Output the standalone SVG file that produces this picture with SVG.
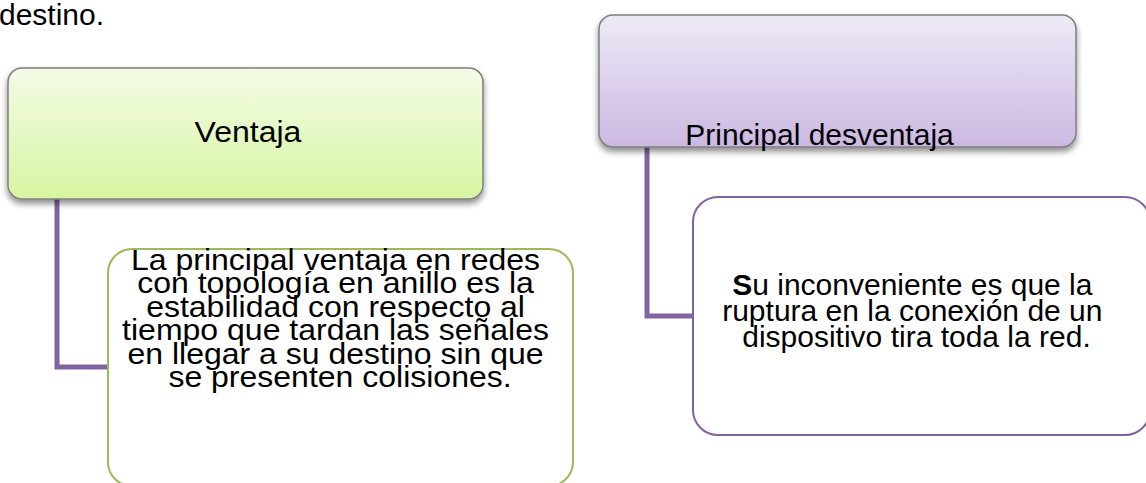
<svg xmlns="http://www.w3.org/2000/svg" width="1146" height="483" viewBox="0 0 1146 483">
<defs>
<linearGradient id="gGreen" x1="0" y1="0" x2="0" y2="1">
<stop offset="0" stop-color="#f4fbe6"/>
<stop offset="1" stop-color="#d6f5a2"/>
</linearGradient>
<linearGradient id="gPurple" x1="0" y1="0" x2="0" y2="1">
<stop offset="0" stop-color="#eee9f6"/>
<stop offset="1" stop-color="#cbb9e2"/>
</linearGradient>
<filter id="shadow" x="-5%" y="-10%" width="110%" height="130%">
<feDropShadow dx="0" dy="4" stdDeviation="3" flood-color="#000" flood-opacity="0.45"/>
</filter>
</defs>
<style>
.t{font-family:"Liberation Sans",Arial,sans-serif;font-size:30px;fill:#000;}
.left{font-size:29.5px;}
.c{text-anchor:middle;}
.head{stroke:#7f7f7f;stroke-width:1.5;}
.conn{fill:none;stroke:#8064a2;stroke-width:5;}
</style>
<rect width="1146" height="483" fill="#fff"/>
<text class="t" x="-1" y="25" font-size="30.5">destino.</text>
<g id="connectors">
<polyline class="conn" points="57,199 57,367 108,367"/>
<polyline class="conn" points="647,147 647,316 693,316"/>
</g>
<g id="ventaja">
<rect class="head" x="8" y="68" width="475" height="131" rx="14" fill="url(#gGreen)" filter="url(#shadow)"/>
<text class="t left c" transform="translate(248,0) scale(1.085,1)" x="0" y="142">Ventaja</text>
</g>
<g id="ventaja-detalle">
<rect x="108" y="249" width="465" height="237" rx="24" fill="#fff" stroke="#9bbb59" stroke-width="2"/>
<text class="t left c" transform="translate(340,0) scale(1.085,1)">
<tspan x="0" y="270">La principal ventaja en redes</tspan>
<tspan x="0" y="293.4">con topología en anillo es la</tspan>
<tspan x="0" y="316.8">estabilidad con respecto al</tspan>
<tspan x="0" y="340.2">tiempo que tardan las señales</tspan>
<tspan x="0" y="363.6">en llegar a su destino sin que</tspan>
<tspan x="0" y="387">se presenten colisiones.</tspan>
</text>
</g>
<g id="desventaja">
<rect class="head" x="599" y="15" width="477" height="132" rx="14" fill="url(#gPurple)" filter="url(#shadow)"/>
<text class="t c" x="819.5" y="145">Principal desventaja</text>
</g>
<g id="desventaja-detalle">
<rect x="693" y="197" width="457" height="238" rx="25" fill="#fff" stroke="#8064a2" stroke-width="2"/>
<text class="t c">
<tspan x="916.5" y="295"><tspan font-weight="bold">S</tspan>u inconveniente es que la</tspan>
<tspan x="916.5" y="321">ruptura en la conexión de un</tspan>
<tspan x="916.5" y="347">dispositivo tira toda la red.</tspan>
</text>
</g>
</svg>
